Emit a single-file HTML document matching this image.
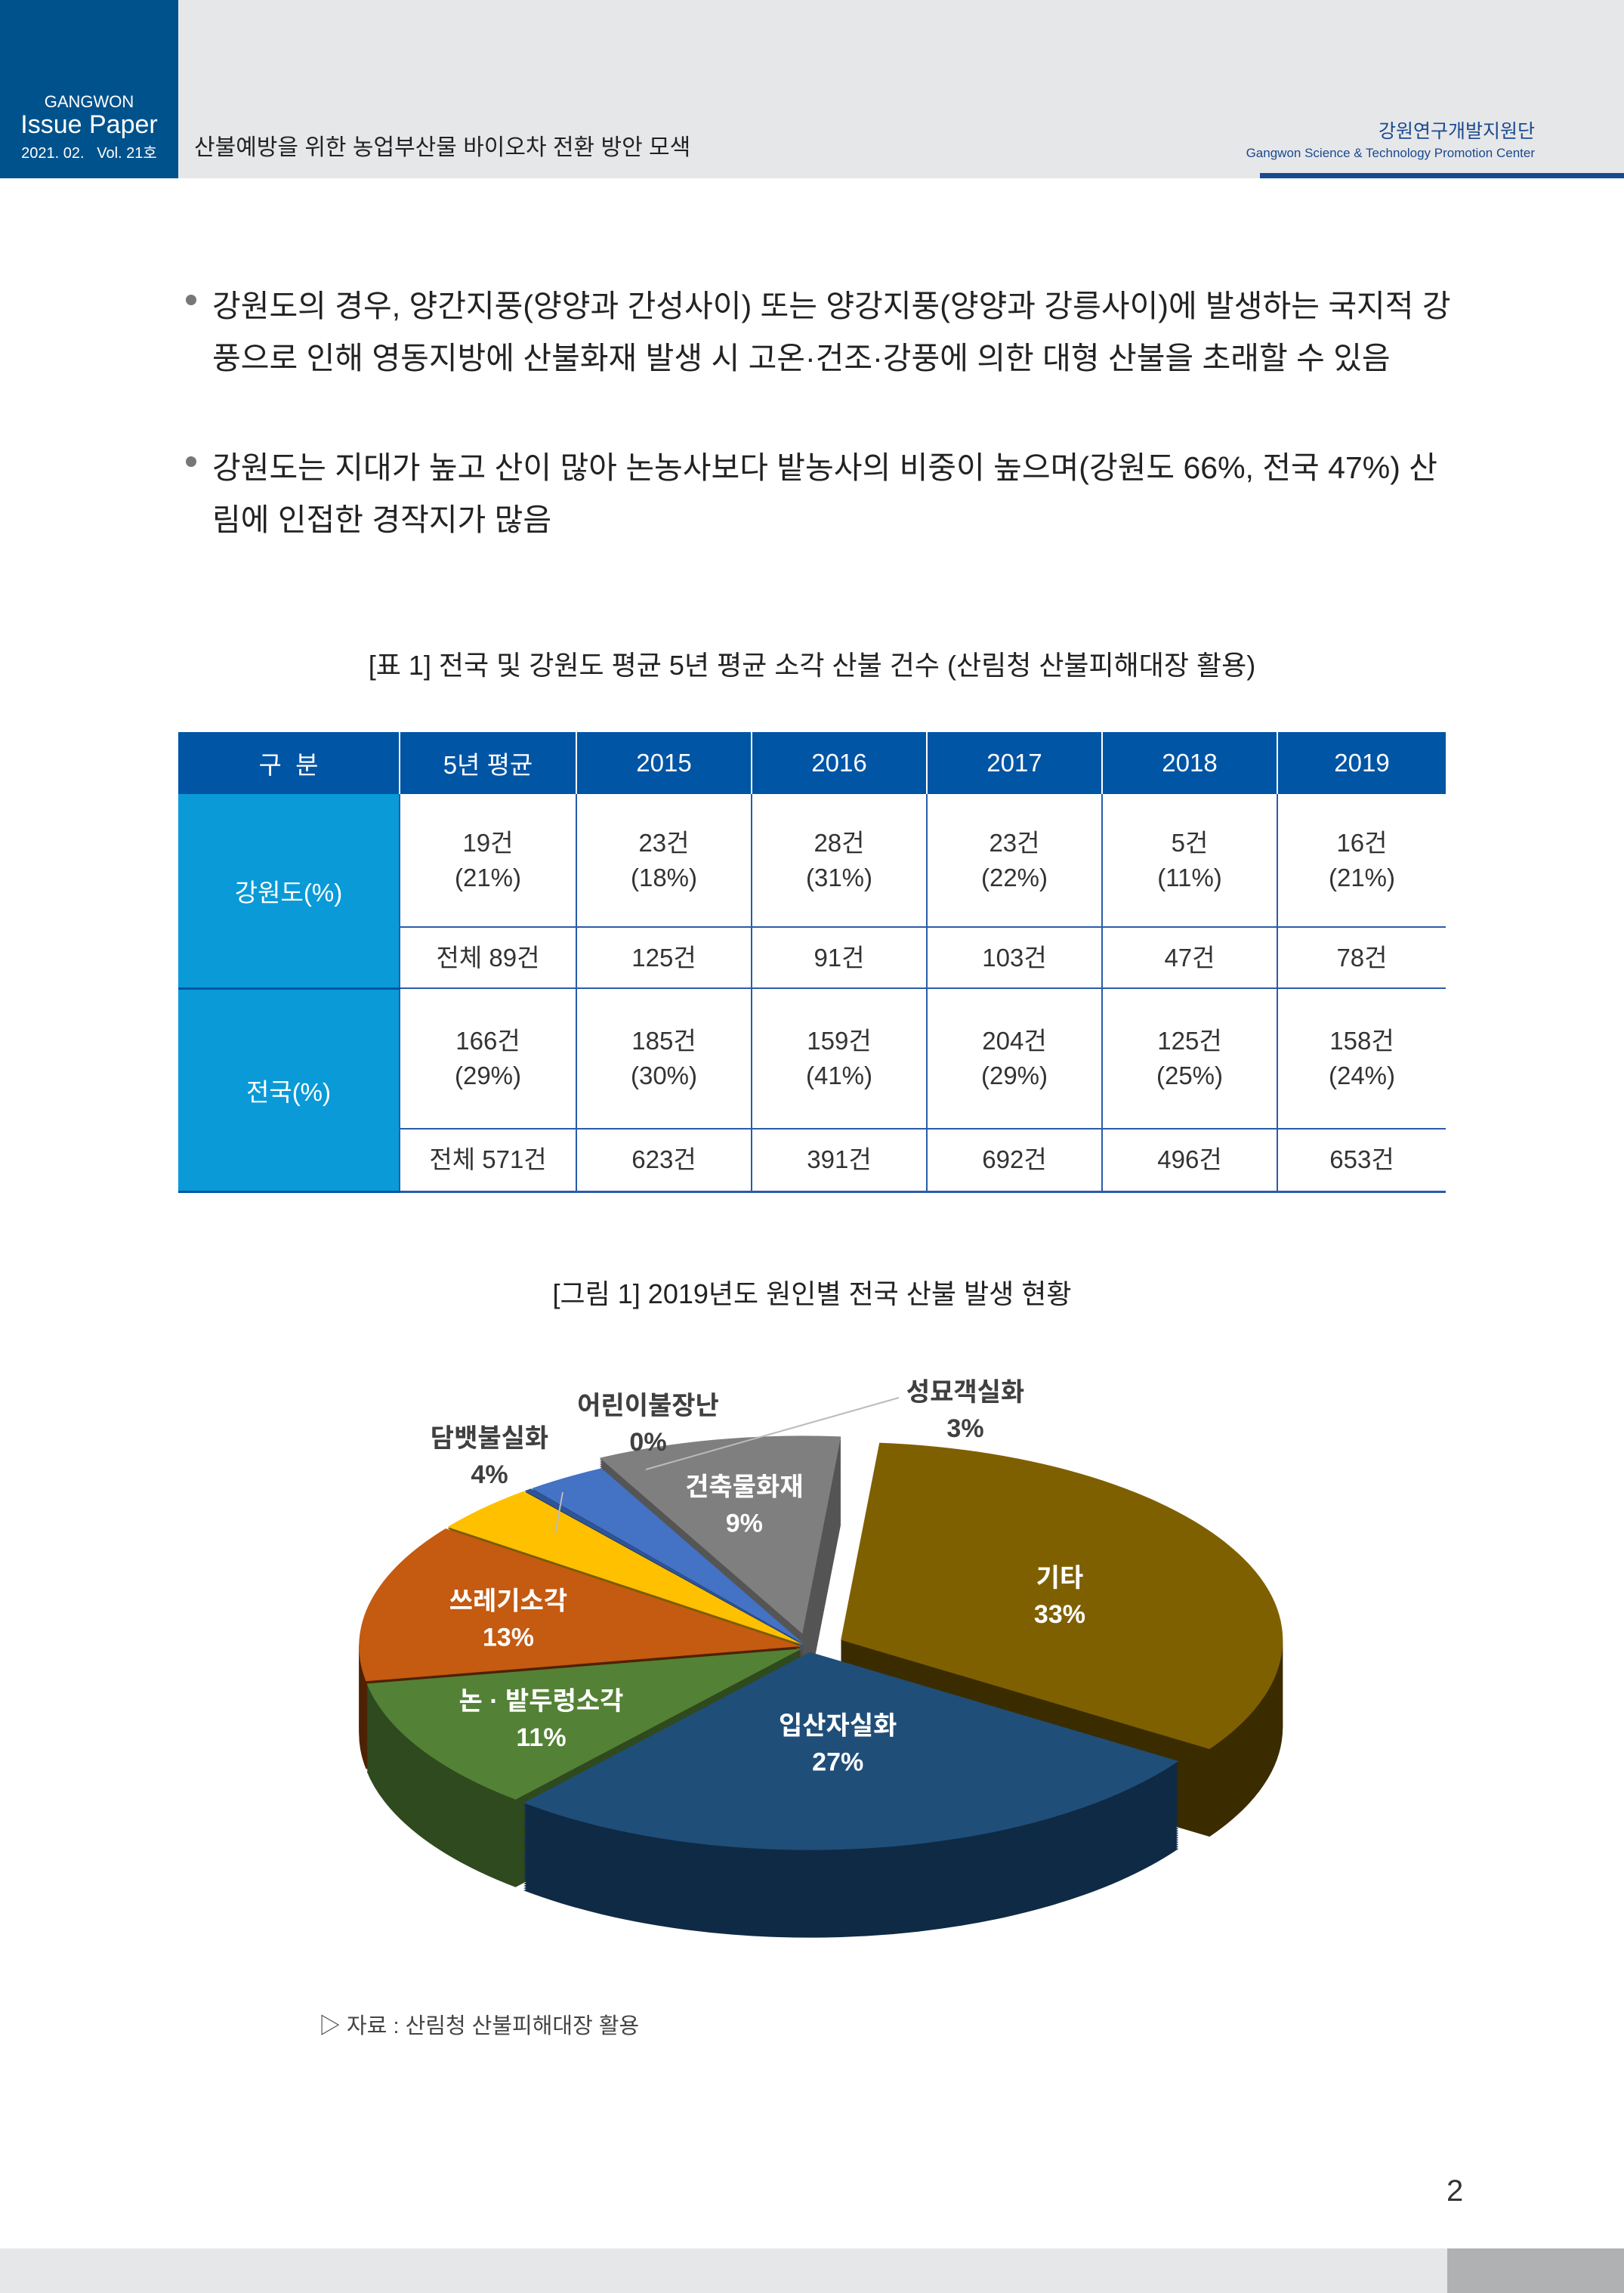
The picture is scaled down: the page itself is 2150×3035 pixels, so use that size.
<!DOCTYPE html>
<html><head><meta charset="utf-8">
<style>
body{margin:0;width:2150px;height:3035px;position:relative;background:#fff;font-family:"Liberation Sans","Noto Sans CJK KR",sans-serif;overflow:hidden;color:#222}
.abs{position:absolute}
.hdr{left:0;top:0;width:2150px;height:236px;background:#e6e7e9}
.blue{left:0;top:0;width:236px;height:236px;background:#00528c;color:#fff;text-align:center}
.bul{left:246px;width:14px;height:14px;border-radius:50%;background:#777}
.line{left:281px;font-size:41px;white-space:nowrap;color:#222}
table{border-collapse:collapse;position:absolute;left:236px;top:969px;width:1678px;font-size:33px;text-align:center}
td{padding:0}
.th{background:#0055a5;color:#fff;height:82px}
.side{background:#0a9ad8;color:#fff;border-bottom:3px solid #0055a5}
.c{border-left:2px solid #2a5ca8;color:#333;line-height:46px}
.sub{border-top:2px solid #2a5ca8}
</style></head><body>
<div class="abs hdr"></div>
<div class="abs blue">
 <div class="abs" style="left:0;width:236px;top:122px;font-size:22px">GANGWON</div>
 <div class="abs" style="left:0;width:236px;top:146px;font-size:34px">Issue Paper</div>
 <div class="abs" style="left:0;width:236px;top:186px;font-size:20px">2021. 02.&nbsp;&nbsp;&nbsp;Vol. 21호</div>
</div>
<div class="abs" style="left:257px;top:170px;font-size:30px;color:#222">산불예방을 위한 농업부산물 바이오차 전환 방안 모색</div>
<div class="abs" style="right:118px;top:154px;font-size:25px;color:#1a4a8f">강원연구개발지원단</div>
<div class="abs" style="right:118px;top:193px;font-size:17px;color:#1a4a8f">Gangwon Science &amp; Technology Promotion Center</div>
<div class="abs" style="left:1668px;top:229px;width:482px;height:7px;background:#1a4a8f"></div>

<div class="abs bul" style="top:390px"></div>
<div class="abs line" style="top:371px">강원도의 경우, 양간지풍(양양과 간성사이) 또는 양강지풍(양양과 강릉사이)에 발생하는 국지적 강</div>
<div class="abs line" style="top:440px">풍으로 인해 영동지방에 산불화재 발생 시 고온·건조·강풍에 의한 대형 산불을 초래할 수 있음</div>
<div class="abs bul" style="top:604px"></div>
<div class="abs line" style="top:585px">강원도는 지대가 높고 산이 많아 논농사보다 밭농사의 비중이 높으며(강원도 66%, 전국 47%) 산</div>
<div class="abs line" style="top:654px">림에 인접한 경작지가 많음</div>

<div class="abs" style="left:0;width:2150px;top:852px;text-align:center;font-size:36px">[표 1] 전국 및 강원도 평균 5년 평균 소각 산불 건수 (산림청 산불피해대장 활용)</div>

<table>
<tr>
<td class="th" style="width:292px">구&nbsp;&nbsp;분</td><td class="th" style="border-left:2px solid #fff;width:232px">5년 평균</td><td class="th" style="border-left:2px solid #fff;width:230px">2015</td><td class="th" style="border-left:2px solid #fff;width:230px">2016</td><td class="th" style="border-left:2px solid #fff;width:230px">2017</td><td class="th" style="border-left:2px solid #fff;width:230px">2018</td><td class="th" style="border-left:2px solid #fff">2019</td></tr>
<tr style="height:176px"><td class="side" rowspan="2">강원도(%)</td>
<td class="c">19건<br>(21%)</td><td class="c">23건<br>(18%)</td><td class="c">28건<br>(31%)</td><td class="c">23건<br>(22%)</td><td class="c">5건<br>(11%)</td><td class="c">16건<br>(21%)</td></tr>
<tr style="height:81px"><td class="c sub">전체 89건</td><td class="c sub">125건</td><td class="c sub">91건</td><td class="c sub">103건</td><td class="c sub">47건</td><td class="c sub">78건</td></tr>
<tr style="height:186px;border-top:2px solid #2a5ca8"><td class="side" rowspan="2">전국(%)</td>
<td class="c">166건<br>(29%)</td><td class="c">185건<br>(30%)</td><td class="c">159건<br>(41%)</td><td class="c">204건<br>(29%)</td><td class="c">125건<br>(25%)</td><td class="c">158건<br>(24%)</td></tr>
<tr style="height:83px;border-bottom:3px solid #2a5ca8"><td class="c sub">전체 571건</td><td class="c sub">623건</td><td class="c sub">391건</td><td class="c sub">692건</td><td class="c sub">496건</td><td class="c sub">653건</td></tr>
</table>

<div class="abs" style="left:0;width:2150px;top:1684px;text-align:center;font-size:36px">[그림 1] 2019년도 원인별 전국 산불 발생 현황</div>

<svg class="abs" style="left:0;top:0" width="2150" height="3035" id="pie"></svg>

<div class="abs" style="left:422px;top:2658px;font-size:29px;color:#444">▷ 자료 : 산림청 산불피해대장 활용</div>
<div class="abs" style="left:1915px;top:2878px;font-size:40px;color:#333">2</div>
<div class="abs" style="left:0;top:2976px;width:1916px;height:59px;background:#e6e7e9"></div>
<div class="abs" style="left:1916px;top:2976px;width:234px;height:59px;background:#b0b1b3"></div>

<script>
const categories=["기타","입산자실화","논 · 밭두렁소각","쓰레기소각","담뱃불실화","어린이불장난","성묘객실화","건축물화재"];
const values=[33,27,11,13,4,0.3,3,9];
const labels=["33%","27%","11%","13%","4%","0%","3%","9%"];
const topColors=["#7f6000","#1f4e79","#538135","#c55a11","#ffc000","#2f5597","#4472c4","#7f7f7f"];
const sideColors=["#3b2c00","#0f2a45","#2f4a1e","#4f2205","#7a5c00","#1a2f55","#22407a","#555555"];
const explode=[48,15,10,10,10,10,10,40];
const ns="http://www.w3.org/2000/svg";
const svg=document.getElementById('pie');
const cx=1070,cy=2180,rx=585,ry=262,depth=116,start=-85;
const total=values.reduce((a,b)=>a+b,0);
function pt(a,ox,oy,dy){const r=a*Math.PI/180;return [cx+ox+rx*Math.cos(r),cy+oy+dy+ry*Math.sin(r)];}
function slicePath(a0,a1,ox,oy,dy){const p0=pt(a0,ox,oy,dy),p1=pt(a1,ox,oy,dy);const large=(a1-a0)>180?1:0;
 return `M${cx+ox},${cy+oy+dy} L${p0[0]},${p0[1]} A${rx},${ry} 0 ${large} 1 ${p1[0]},${p1[1]} Z`;}
const slices=[];let a=start;
values.forEach((v,i)=>{const span=v/total*360;const mid=a+span/2;const m=mid*Math.PI/180;
 slices.push({i,a0:a,a1:a+span,mid,ox:explode[i]*Math.cos(m),oy:explode[i]*Math.sin(m)*ry/rx});a+=span;});
const order=[...slices].sort((p,q)=>Math.sin(p.mid*Math.PI/180)-Math.sin(q.mid*Math.PI/180));
order.forEach(s=>{for(let d=depth;d>0;d-=3){const p=document.createElementNS(ns,'path');
 p.setAttribute('d',slicePath(s.a0,s.a1,s.ox,s.oy,d));p.setAttribute('fill',sideColors[s.i]);
 
 
 svg.appendChild(p);}});
slices.forEach(s=>{const p=document.createElementNS(ns,'path');
 p.setAttribute('d',slicePath(s.a0,s.a1,s.ox,s.oy,0));p.setAttribute('fill',topColors[s.i]);
 
 
 svg.appendChild(p);});
[[[745,1975],[735,2030]],[[1190,1850],[855,1945]]].forEach((pts,j)=>{const l=document.createElementNS(ns,'polyline');
 l.setAttribute('points',pts.map(p=>p.join(',')).join(' '));l.setAttribute('fill','none');l.setAttribute('stroke','#bbb');l.setAttribute('stroke-width','2');
 
 
 svg.appendChild(l);});
const outside={4:[648,1923],5:[858,1880],6:[1278,1862]};
function txt(x,y,t,fill,name){const e=document.createElementNS(ns,'text');e.setAttribute('x',x);e.setAttribute('y',y);
 e.setAttribute('text-anchor','middle');e.setAttribute('font-size','34');e.setAttribute('font-weight','bold');
 e.setAttribute('fill',fill);e.setAttribute('font-family','Liberation Sans, Noto Sans CJK KR, sans-serif');e.textContent=t;
 
 
 svg.appendChild(e);}
slices.forEach(s=>{let x,y,fill;
 if(outside[s.i]){[x,y]=outside[s.i];fill='#404040';}
 else{const m=s.mid*Math.PI/180;const k=s.i==1?0.45:(s.i==0?0.55:0.68);x=cx+s.ox+rx*k*Math.cos(m);y=cy+s.oy+ry*k*Math.sin(m);fill='#fff';}
 txt(x,y-8,categories[s.i],fill,'slice-label-'+s.i);txt(x,y+40,labels[s.i],fill,'slice-value-'+s.i);});
</script>
</body></html>
